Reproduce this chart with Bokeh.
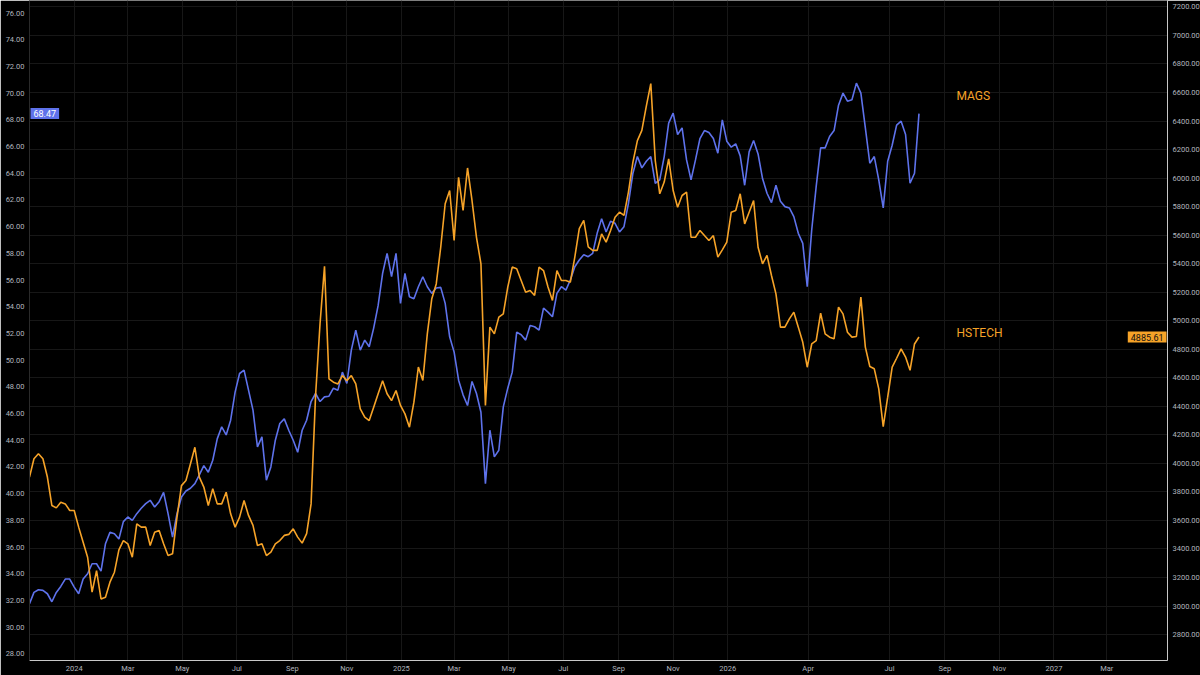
import pandas as pd
from bokeh.plotting import figure
from bokeh.models import (LinearAxis, Range1d, FixedTicker, Grid, NumeralTickFormatter,
                          CustomJSTickFormatter, Label, ColumnDataSource)
from bokeh.embed import file_html
from bokeh.resources import INLINE

# ---------------- data ----------------
start_date = "2023-11-12"
step = "5D"

mags = [
    31.75, 32.6, 32.8, 32.75, 32.5, 31.9, 32.6, 33.05, 33.6, 33.6,
    33.0, 32.5, 33.6, 34.0, 34.75, 34.75, 34.2, 36.25, 37.1, 37.0,
    36.6, 37.9, 38.25, 38.0, 38.5, 38.9, 39.25, 39.5, 39.0, 39.4,
    40.1, 38.5, 36.75, 38.5, 39.75, 40.2, 40.4, 40.75, 41.4, 42.1,
    41.6, 42.5, 44.1, 45.0, 44.4, 45.5, 47.6, 49.0, 49.25, 47.75,
    46.25, 43.5, 44.25, 41.0, 42.0, 44.0, 45.25, 45.6, 44.75, 44.0,
    43.1, 44.75, 45.5, 46.9, 47.5, 46.9, 47.25, 47.3, 47.9, 47.75,
    49.1, 48.25, 50.75, 52.25, 50.75, 51.5, 51.0, 52.4, 54.1, 56.5,
    58.0, 56.25, 58.0, 54.25, 56.5, 54.75, 54.6, 55.5, 56.25, 55.5,
    55.0, 55.4, 55.45, 54.25, 51.75, 50.6, 48.5, 47.4, 46.6, 48.4,
    47.5, 46.1, 40.75, 44.75, 42.75, 43.25, 46.5, 47.9, 49.1, 52.1,
    51.9, 51.5, 52.6, 52.5, 52.25, 53.9, 53.6, 53.25, 55.0, 55.5,
    55.25, 56.0, 57.0, 57.5, 57.9, 57.75, 58.0, 59.5, 60.6, 59.6,
    60.4, 60.25, 59.6, 60.0, 61.75, 64.0, 65.25, 64.4, 64.9, 65.25,
    63.25, 63.5, 65.25, 67.75, 68.5, 66.9, 67.4, 65.0, 63.5, 65.0,
    66.6, 67.2, 67.05, 66.6, 65.5, 68.0, 66.4, 65.95, 66.2, 65.3,
    63.1, 65.6, 66.45, 65.45, 63.6, 62.5, 61.8, 63.1, 61.9, 61.5,
    61.4, 60.75, 59.5, 58.75, 55.5, 59.75, 63.0, 65.9, 65.9, 66.75,
    67.2, 69.1, 70.0, 69.4, 69.5, 70.75, 70.0, 67.4, 64.75, 65.25,
    63.5, 61.4, 64.9, 66.1, 67.6, 67.9, 66.9, 63.25, 64.0, 68.47,
]

hstech = [
    3904, 4032, 4067, 4032, 3904, 3705, 3688, 3728, 3716, 3670,
    3670, 3553, 3447, 3342, 3097, 3248, 3050, 3062, 3167, 3237,
    3394, 3459, 3436, 3342, 3576, 3553, 3553, 3424, 3517, 3529,
    3436, 3354, 3366, 3623, 3844, 3880, 3996, 4113, 3904, 3834,
    3705, 3822, 3716, 3716, 3798, 3646, 3553, 3623, 3740, 3635,
    3565, 3424, 3436, 3354, 3378, 3436, 3459, 3495, 3502, 3541,
    3483, 3441, 3507, 3716, 4475, 4979, 5381, 4593, 4569, 4557,
    4616, 4580, 4616, 4557, 4382, 4324, 4300, 4394, 4488, 4580,
    4488, 4440, 4511, 4406, 4347, 4254, 4429, 4675, 4581, 4908,
    5154, 5258, 5515, 5820, 5913, 5563, 6006, 5773, 6071, 5843,
    5585, 5399, 4406, 4955, 4908, 5025, 5048, 5236, 5376, 5364,
    5282, 5200, 5212, 5177, 5376, 5352, 5236, 5142, 5352, 5282,
    5282, 5270, 5446, 5645, 5703, 5517, 5493, 5493, 5609, 5551,
    5633, 5726, 5761, 5738, 5902, 6112, 6263, 6334, 6505, 6662,
    6123, 5890, 5972, 6135, 5913, 5796, 5878, 5902, 5585, 5585,
    5633, 5597, 5563, 5597, 5446, 5497, 5551, 5761, 5773, 5890,
    5679, 5761, 5843, 5515, 5399, 5458, 5317, 5188, 4955, 4955,
    5013, 5060, 4955, 4849, 4674, 4837, 4861, 5053, 4908, 4885,
    4873, 5095, 5048, 4919, 4885, 4890, 5165, 4815, 4679, 4663,
    4522, 4258, 4464, 4674, 4737, 4803, 4745, 4652, 4837, 4885.61,
]

mags_last = "68.47"
hstech_last = "4885.61"

x_start = pd.Timestamp("2023-11-12")
x_end = pd.Timestamp("2027-05-08")
mags_range = (27.5, 76.94)
hstech_range = (2618, 7245)
mags_ticks = list(range(28, 77, 2))
hstech_ticks = list(range(2800, 7201, 200))
time_ticks = ["2024-01-01", "2024-03-01", "2024-05-01", "2024-07-01", "2024-09-01",
              "2024-11-01", "2025-01-01", "2025-03-01", "2025-05-01", "2025-07-01",
              "2025-09-01", "2025-11-01", "2026-01-01", "2026-04-01", "2026-07-01",
              "2026-09-01", "2026-11-01", "2027-01-01", "2027-03-01"]

label_date = pd.Timestamp("2026-09-14")
mags_label_y = 69.75
hstech_label_y = 4917

# ---------------- style ----------------
BG = "#000000"
GRID = "#171717"
BLUE = "#5E72EB"
ORANGE = "#F6A328"
TXT = "#B2B5BE"
FONT = "Roboto"

dates = pd.date_range(start_date, periods=len(mags), freq=step)
src = ColumnDataSource(dict(date=dates, mags=mags, hstech=hstech))

p = figure(frame_width=1138, frame_height=660, x_axis_type="datetime",
           x_range=(x_start, x_end), y_range=Range1d(*mags_range),
           output_backend="svg", toolbar_location=None,
           background_fill_color=BG, border_fill_color=BG,
           outline_line_color=None,
           min_border_left=29, min_border_right=33,
           min_border_top=0, min_border_bottom=15)

p.extra_y_ranges = {"hs": Range1d(*hstech_range)}

# left axis (MAGS)
ly = p.yaxis[0]
ly.ticker = FixedTicker(ticks=mags_ticks)
ly.formatter = NumeralTickFormatter(format="0.00")
ly.axis_line_color = "#2a2a2a"

# right axis (HSTECH)
ry = LinearAxis(y_range_name="hs", ticker=FixedTicker(ticks=hstech_ticks),
                formatter=NumeralTickFormatter(format="0.00"))
ry.axis_line_color = "#c8c8c8"
p.add_layout(ry, "right")

# x axis
xa = p.xaxis[0]
xa.ticker = FixedTicker(ticks=[pd.Timestamp(t).timestamp() * 1000 for t in time_ticks])
xa.formatter = CustomJSTickFormatter(code="""
const d = new Date(tick);
const m = d.getUTCMonth();
const names = ['Jan','Feb','Mar','Apr','May','Jun','Jul','Aug','Sep','Oct','Nov','Dec'];
return m == 0 ? String(d.getUTCFullYear()) : names[m];
""")
xa.axis_line_color = "#c8c8c8"

for ax in (ly, ry, xa):
    ax.major_tick_line_color = None
    ax.minor_tick_line_color = None
    ax.major_tick_out = 0
    ax.major_tick_in = 0
    ax.minor_tick_out = 0
    ax.minor_tick_in = 0
    ax.major_label_text_color = TXT
    ax.major_label_text_font_size = "7.5px"
    ax.major_label_text_font = FONT
    ax.major_label_standoff = 5
xa.major_label_standoff = 3

p.xgrid.grid_line_color = GRID
p.ygrid.visible = False
p.add_layout(Grid(dimension=1, ticker=FixedTicker(ticks=hstech_ticks),
                  y_range_name="hs", grid_line_color=GRID))

p.line(x="date", y="mags", source=src, line_color=BLUE, line_width=1.6)
p.line(x="date", y="hstech", source=src, y_range_name="hs",
       line_color=ORANGE, line_width=1.6)

p.add_layout(Label(x=label_date, y=mags_label_y, text="MAGS", text_color=ORANGE,
                   text_font=FONT, text_font_size="12px", text_baseline="middle"))
p.add_layout(Label(x=label_date, y=hstech_label_y, y_range_name="hs", text="HSTECH",
                   text_color=ORANGE, text_font=FONT, text_font_size="12px",
                   text_baseline="middle"))


def tag(**kw):
    try:
        return Label(padding=(3, 2), **kw)
    except Exception:
        return Label(**kw)


# last-value tags at the edges of the price scales
p.add_layout(tag(x=x_start, y=float(mags_last), text=mags_last,
                 text_align="left", text_baseline="middle", x_offset=1,
                 text_color="white", text_font=FONT, text_font_size="9px",
                 background_fill_color=BLUE))
p.add_layout(tag(x=x_end, y=float(hstech_last), y_range_name="hs",
                 text=hstech_last, text_align="right",
                 text_baseline="middle", x_offset=-1, text_color="#111111",
                 text_font=FONT, text_font_size="9px",
                 background_fill_color=ORANGE))

open("out.html", "w").write(file_html(p, INLINE))
